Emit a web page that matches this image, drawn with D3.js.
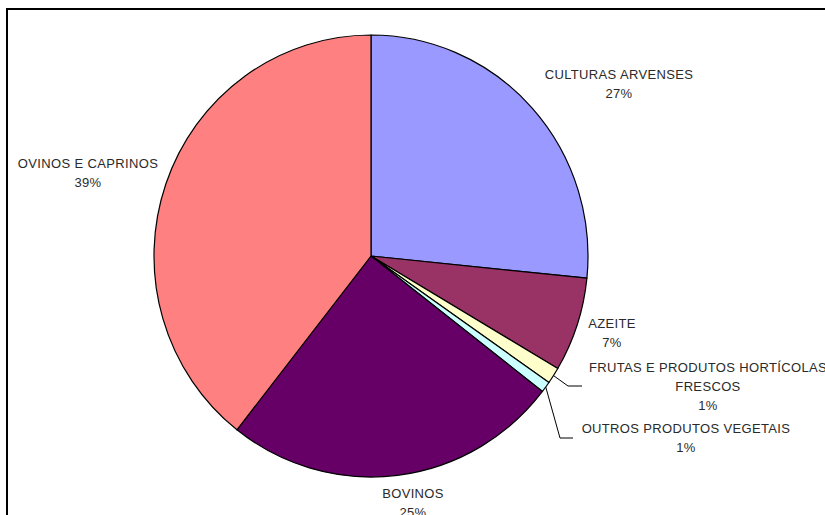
<!DOCTYPE html>
<html><head><meta charset="utf-8">
<script src="https://cdn.jsdelivr.net/npm/d3@7/dist/d3.min.js"></script>
<style>body{margin:0;background:#fff}svg{display:block}</style>
</head><body>
<svg id="c" width="825" height="515"></svg>
<script>
const categories = ["CULTURAS ARVENSES","AZEITE","FRUTAS E PRODUTOS HORTÍCOLAS FRESCOS","OUTROS PRODUTOS VEGETAIS","BOVINOS","OVINOS E CAPRINOS"];
const values = [26.6, 6.9, 1.2, 0.8, 25.1, 39.4];
const pctLabels = ["27%","7%","1%","1%","25%","39%"];
const colors = ["#9999FF","#993366","#FFFFCC","#CCFFFF","#660066","#FF8080"];

const svg = d3.select("#c");
svg.append("rect").attr("x",7).attr("y",9).attr("width",830).attr("height",520)
  .attr("fill","none").attr("stroke","#000").attr("stroke-width",2);

const cx = 371, cy = 256, R = 221, RX = 217;
const sx = RX / R;
const pie = d3.pie().sort(null).value(d=>d)(values);
const arc = d3.arc().innerRadius(0).outerRadius(R);
const g = svg.append("g").attr("transform",`translate(${cx},${cy}) scale(${sx},1)`);
g.selectAll("path").data(pie).join("path")
  .attr("d",arc).attr("fill",(d,i)=>colors[i])
  .attr("stroke","#000").attr("stroke-width",1.2).attr("stroke-linejoin","round")
  .attr("vector-effect","non-scaling-stroke");

const font = "Liberation Sans, Arial, sans-serif";
const lab = [
  {lines:["CULTURAS ARVENSES","27%"], x:619, y:79},
  {lines:["AZEITE","7%"], x:612, y:328},
  {lines:["FRUTAS E PRODUTOS HORTÍCOLAS","FRESCOS","1%"], x:708, y:372},
  {lines:["OUTROS PRODUTOS VEGETAIS","1%"], x:686, y:433},
  {lines:["BOVINOS","25%"], x:413, y:498},
  {lines:["OVINOS E CAPRINOS","39%"], x:88, y:168}
];
lab.forEach((l,i)=>{
  const t = svg.append("text").attr("font-family",font).attr("font-size",13)
    .attr("letter-spacing",0.35).attr("fill","#2a2a2a").attr("text-anchor","middle");
  const lines = l.lines.slice(0,-1).concat([pctLabels[i]]);
  lines.forEach((s,j)=>t.append("tspan").attr("x",l.x).attr("y",l.y+j*19).text(s));
});

// leader lines from slice edge
function edge(i){
  const a = (pie[i].startAngle+pie[i].endAngle)/2;
  return [cx+Math.sin(a)*RX, cy-Math.cos(a)*R];
}
const line = d3.line();
const e2 = edge(2), e3 = edge(3);
svg.append("path").attr("d",line([e2,[568,386],[582,386]])).attr("fill","none").attr("stroke","#000").attr("stroke-width",1);
svg.append("path").attr("d",line([e3,[560,438],[573,438]])).attr("fill","none").attr("stroke","#000").attr("stroke-width",1);
</script>
</body></html>
